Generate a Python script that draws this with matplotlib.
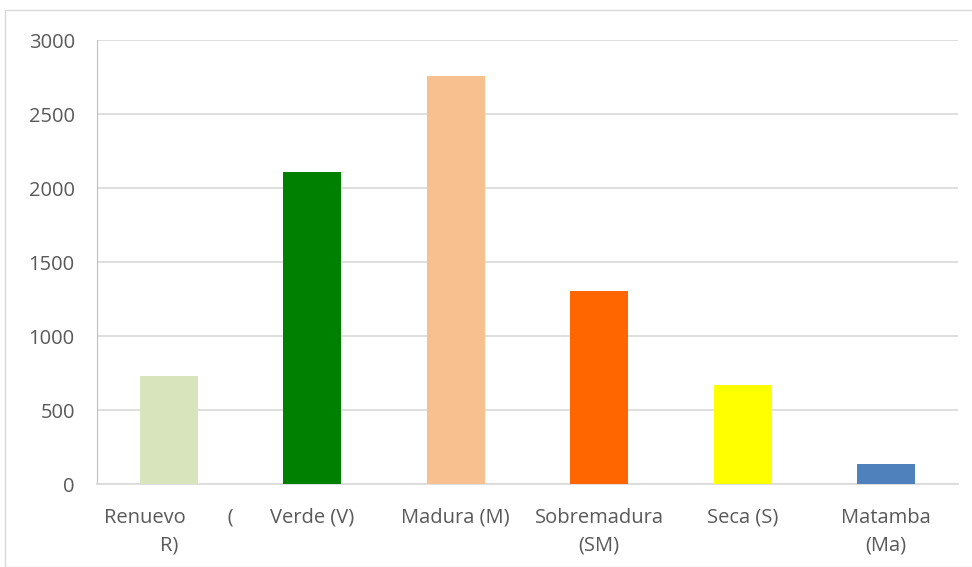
import matplotlib.pyplot as plt
from matplotlib.patches import Rectangle

categories = ["Renuevo        (\nR)", "Verde (V)", "Madura (M)", "Sobremadura\n(SM)", "Seca (S)", "Matamba\n(Ma)"]
values = [730, 2105, 2757, 1303, 668, 133]
colors = ["#d8e4bc", "#008000", "#f8c08f", "#ff6600", "#ffff00", "#4f81bd"]

plt.rcParams["font.family"] = ["Open Sans", "DejaVu Sans"]

W, H = 972, 567
fig = plt.figure(figsize=(W / 100, H / 100), dpi=100)
ax = fig.add_axes([97 / W, 1 - 484 / H, (958 - 97) / W, (484 - 40) / H])

x = range(len(categories))
ax.bar(x, values, width=0.405, color=colors, zorder=3)

ax.set_xlim(-0.5, len(categories) - 0.5)
ax.set_ylim(0, 3000)
ax.set_yticks(range(0, 3001, 500))
ax.set_xticks(list(x))
ax.set_xticklabels(categories, linespacing=1.55)
ax.grid(axis="y", color="#d9d9d9", linewidth=1.2, zorder=0)
for side in ["top", "right"]:
    ax.spines[side].set_visible(False)
ax.spines["left"].set_color("#bfbfbf")
ax.spines["bottom"].set_color("#d9d9d9")
ax.spines["bottom"].set_linewidth(1.2)
ax.tick_params(axis="both", length=0, labelsize=14.5, colors="#595959")
ax.tick_params(axis="x", pad=17)
ax.tick_params(axis="y", pad=16)

# outer chart border
fig.patches.append(Rectangle((5 / W, 0), 1, 1 - 10 / H, transform=fig.transFigure,
                             fill=False, edgecolor="#d9d9d9", linewidth=1))

fig.savefig("out.png", dpi=100)
